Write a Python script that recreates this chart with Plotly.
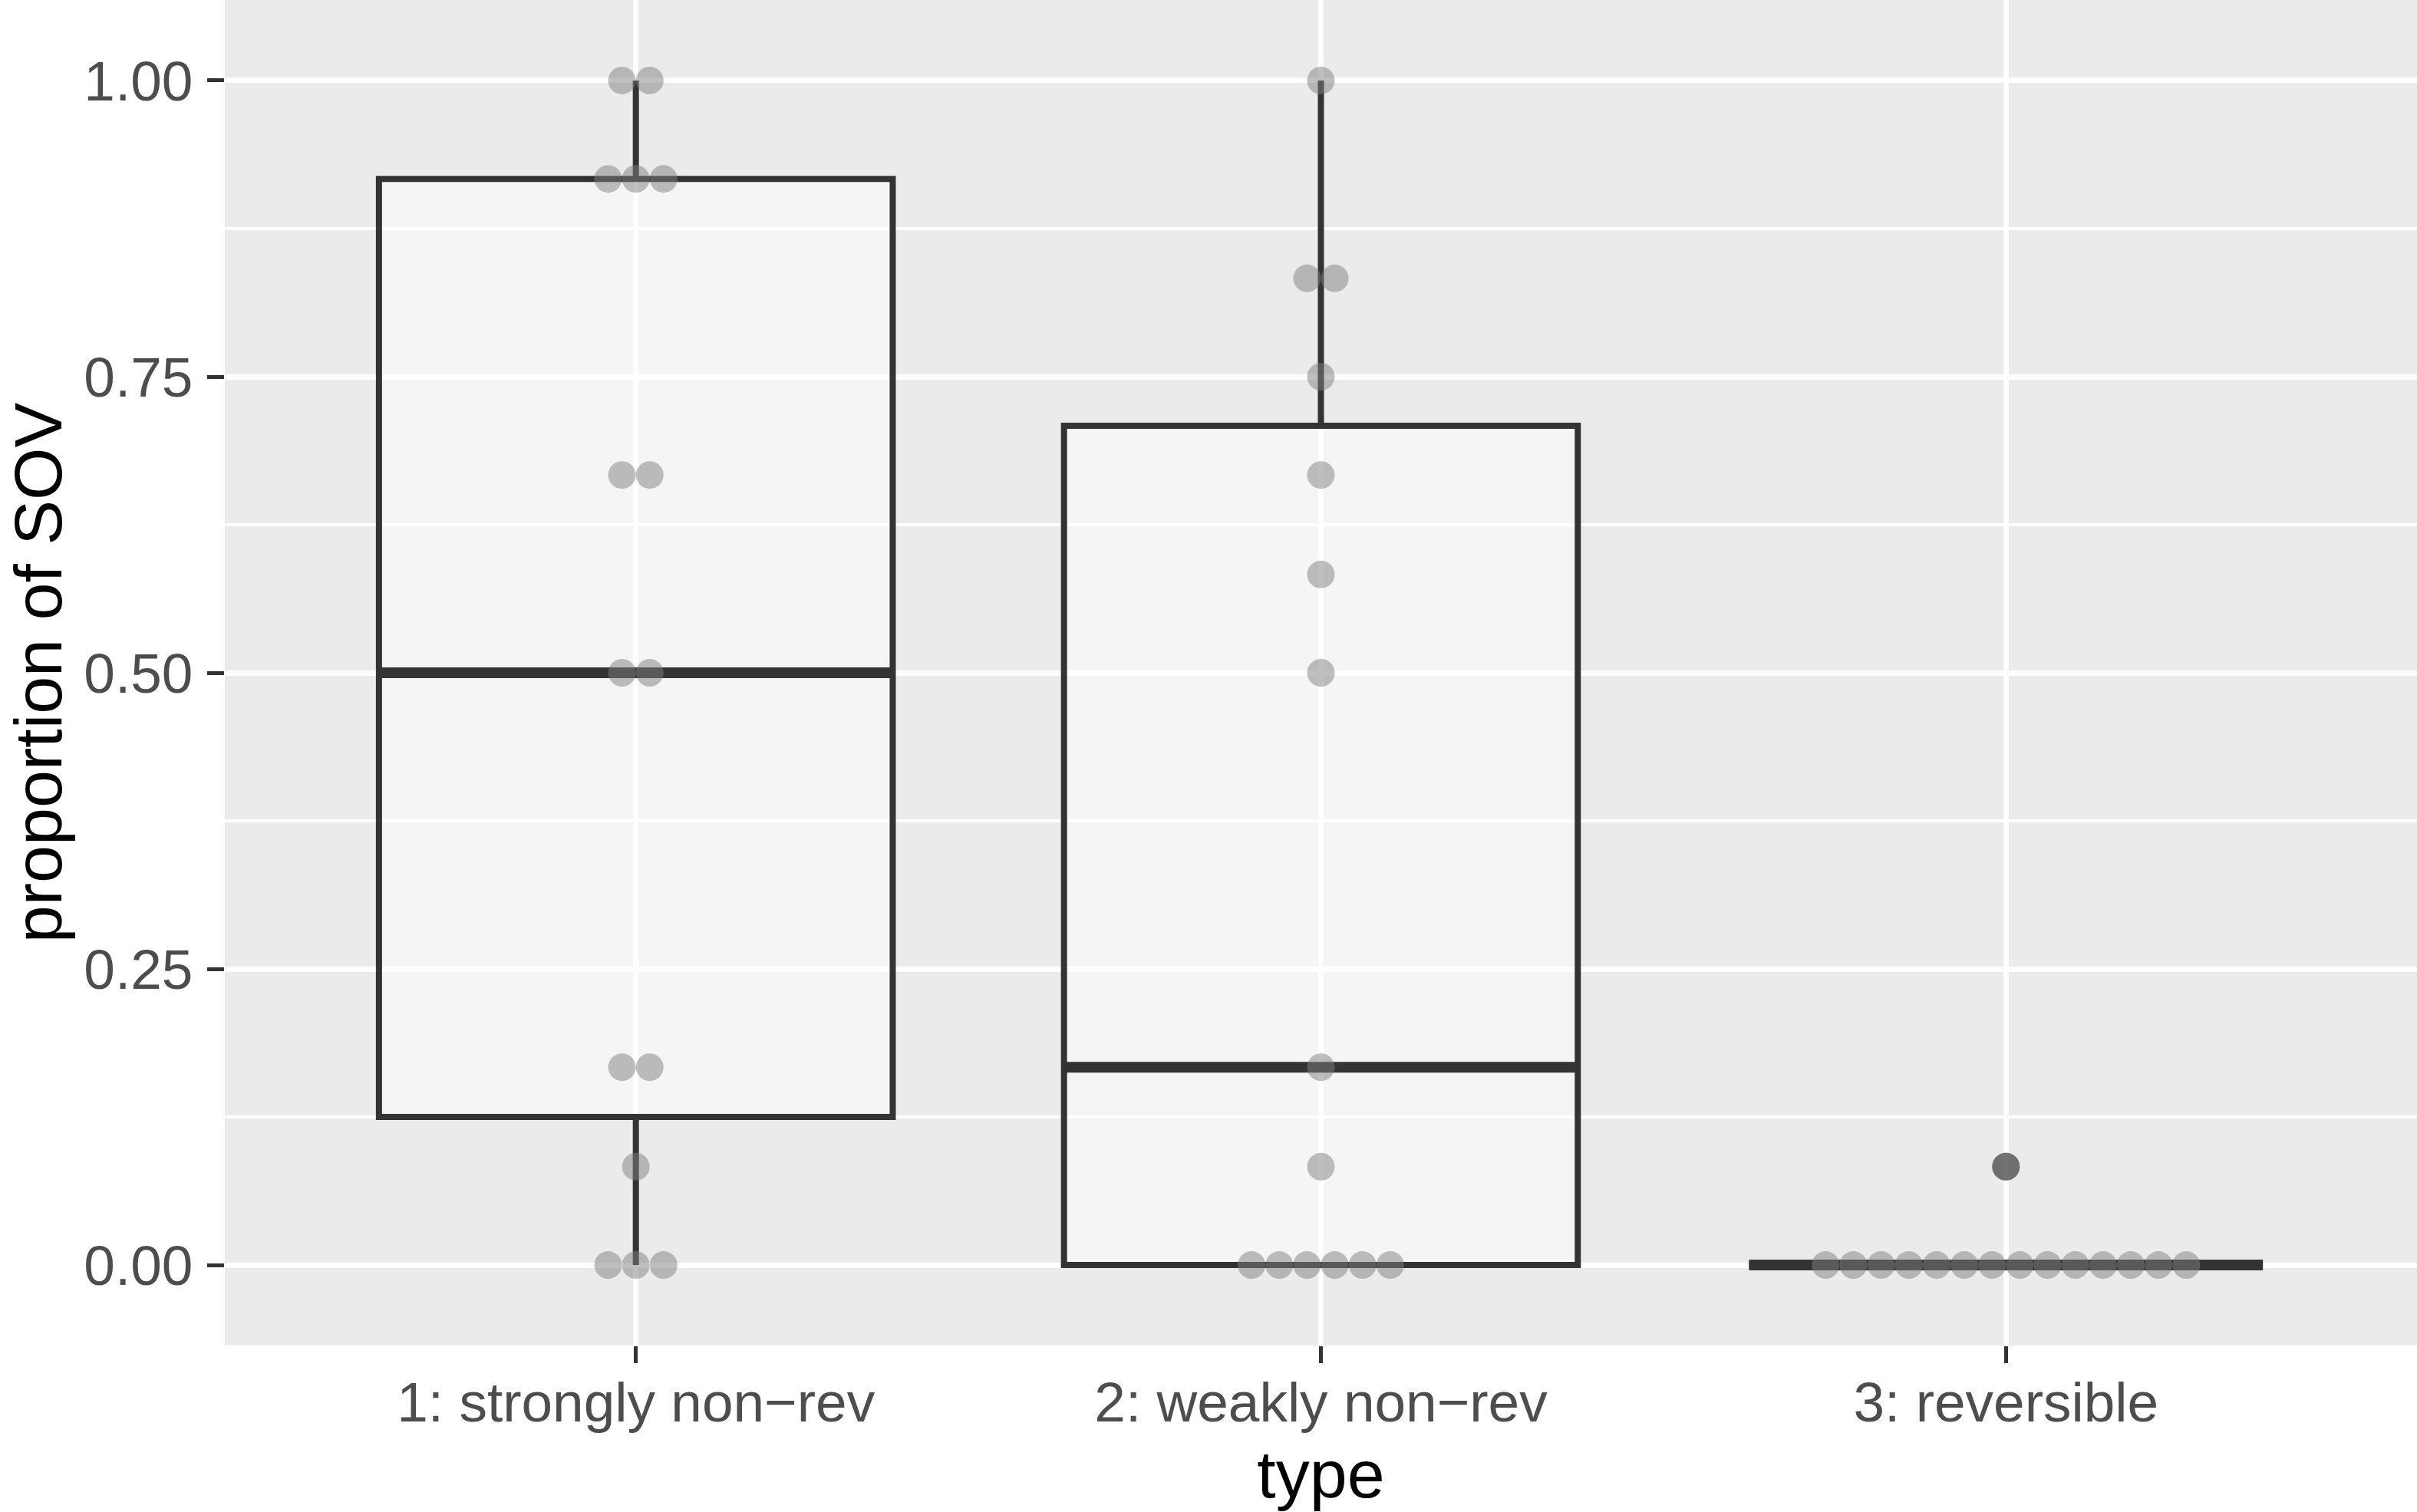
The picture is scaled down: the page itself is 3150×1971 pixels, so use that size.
import plotly.graph_objects as go
from collections import Counter

# proportion of SOV per item
types = ["1: strongly non\u2212rev", "2: weakly non\u2212rev", "3: reversible"]
strong = [1.0, 1.0, 0.917, 0.917, 0.917, 0.667, 0.667, 0.5, 0.5,
          0.167, 0.167, 0.083, 0.0, 0.0, 0.0]
weak = [1.0, 0.833, 0.833, 0.75, 0.667, 0.583, 0.5, 0.167, 0.083,
        0.0, 0.0, 0.0, 0.0, 0.0, 0.0]
reversible = [0.083] + [0.0] * 14
groups = [strong, weak, reversible]
yticks = [0, 0.25, 0.5, 0.75, 1.0]

dot_step = 0.0405
box_w = 0.75

fig = go.Figure()

for i, vals in enumerate(groups):
    pos = i + 1
    fig.add_trace(go.Box(
        x=[pos] * len(vals), y=vals, width=box_w,
        quartilemethod="inclusive", boxpoints="outliers", whiskerwidth=0,
        line=dict(color="#333333", width=8),
        fillcolor="rgba(255,255,255,0.5)",
        marker=dict(color="rgba(0,0,0,0.6)", size=36, line=dict(width=0)),
        hoverinfo="skip", showlegend=False))
    # thicker median like ggplot
    s = sorted(vals)
    med = s[len(s) // 2]
    fig.add_trace(go.Scatter(
        x=[pos - box_w / 2, pos + box_w / 2], y=[med, med], mode="lines",
        line=dict(color="#333333", width=14), hoverinfo="skip",
        showlegend=False))

# centred dot stacks
for i, vals in enumerate(groups):
    pos = i + 1
    xs, ys = [], []
    for v, k in Counter(vals).items():
        for j in range(k):
            xs.append(pos + (j - (k - 1) / 2) * dot_step)
            ys.append(v)
    fig.add_trace(go.Scatter(
        x=xs, y=ys, mode="markers",
        marker=dict(color="rgba(128,128,128,0.5)", size=36, line=dict(width=0)),
        hoverinfo="skip", showlegend=False))

fig.update_layout(
    width=3150, height=1971,
    margin=dict(l=293, r=0, t=0, b=217),
    plot_bgcolor="#ebebeb", paper_bgcolor="white",
    font=dict(family="Liberation Sans, Arial, sans-serif", color="#4d4d4d", size=72),
    xaxis=dict(
        range=[0.4, 3.6], tickvals=[1, 2, 3], ticktext=types,
        showgrid=True, gridcolor="white", gridwidth=7, zeroline=False,
        ticks="outside", ticklen=22, tickwidth=5, tickcolor="#333333",
        tickfont=dict(size=73, color="#4d4d4d"), ticklabelstandoff=-12,
        title=dict(text="type", font=dict(size=88, color="black"), standoff=36)),
    yaxis=dict(
        range=[-0.068, 1.068], tickvals=yticks, tickformat=".2f",
        showgrid=True, gridcolor="white", gridwidth=7, zeroline=False,
        ticks="outside", ticklen=22, tickwidth=5, tickcolor="#333333",
        tickfont=dict(size=73, color="#4d4d4d"), ticklabelstandoff=4,
        minor=dict(tick0=0.125, dtick=0.25, showgrid=True, gridcolor="white",
                   gridwidth=3.5, ticks=""),
        title=dict(text="proportion of SOV", font=dict(size=88, color="black"),
                   standoff=36)),
)

fig.write_html("out.html", config={"displayModeBar": False},
               post_script="document.body.style.margin='0';")
